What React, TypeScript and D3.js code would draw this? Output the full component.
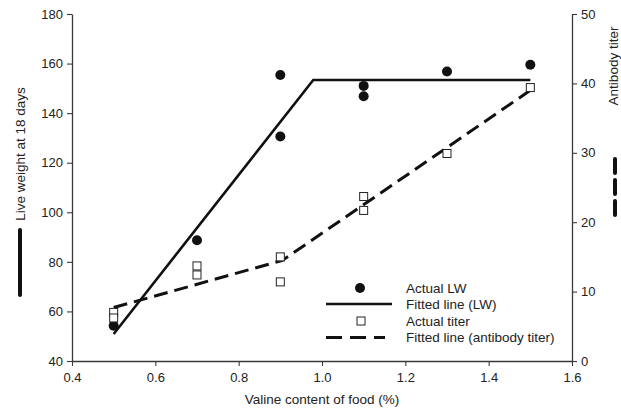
import React, { useRef, useEffect } from "react";
import * as d3 from "d3";

// Live weight (left axis) observations
const lwX = [0.5, 0.7, 0.9, 0.9, 1.1, 1.1, 1.3, 1.5];
const lwY = [54.2, 88.7, 155.4, 130.6, 151, 146.8, 156.8, 159.5];

// Antibody titer (right axis) observations
const titerX = [0.5, 0.5, 0.7, 0.7, 0.9, 0.9, 1.1, 1.1, 1.3, 1.5];
const titerY = [7.0, 6.2, 13.7, 12.4, 15.0, 11.4, 23.7, 21.7, 29.9, 39.4];

// Broken-line fits
const lwFitX = [0.5, 0.979, 1.5];
const lwFitY = [50.9, 153.4, 153.4];
const titerFitX = [0.5, 0.905, 1.5];
const titerFitY = [7.7, 14.5, 39.0];

const xTicks = [0.4, 0.6, 0.8, 1.0, 1.2, 1.4, 1.6];
const leftTicks = [40, 60, 80, 100, 120, 140, 160, 180];
const rightTicks = [0, 10, 20, 30, 40, 50];

const legendLabels = ["Actual LW", "Fitted line (LW)", "Actual titer", "Fitted line (antibody titer)"];

const W = 621;
const H = 410;
const FONT = "'Liberation Sans', Arial, Helvetica, sans-serif";
const AXIS = "#3a3a3a";

export default function App() {
  const ref = useRef<SVGSVGElement>(null);

  useEffect(() => {
    if (!ref.current) return;
    const svg = d3.select(ref.current);
    svg.selectAll("*").remove();

    const left = 72, right = 572, top = 14, bottom = 361;
    const x = d3.scaleLinear().domain([0.4, 1.6]).range([left, right]);
    const yL = d3.scaleLinear().domain([40, 180]).range([bottom, top]);
    const yR = d3.scaleLinear().domain([0, 50]).range([bottom, top]);

    const styleAxis = (g: any) => {
      g.select(".domain").attr("stroke", AXIS).attr("stroke-width", 1.3);
      g.selectAll(".tick line").attr("stroke", AXIS).attr("stroke-width", 1.1);
      g.selectAll(".tick text")
        .attr("fill", "#222")
        .attr("font-family", FONT)
        .attr("font-size", "13px");
    };

    // Axes
    svg
      .append("g")
      .attr("transform", `translate(0,${bottom})`)
      .call(
        d3.axisBottom(x).tickValues(xTicks).tickFormat(d3.format(".1f")).tickSize(5).tickSizeOuter(0).tickPadding(7)
      )
      .call(styleAxis);

    svg
      .append("g")
      .attr("transform", `translate(${left},0)`)
      .call(d3.axisLeft(yL).tickValues(leftTicks).tickSize(5).tickSizeOuter(0).tickPadding(4))
      .call(styleAxis);

    svg
      .append("g")
      .attr("transform", `translate(${right},0)`)
      .call(d3.axisRight(yR).tickValues(rightTicks).tickSize(5).tickSizeOuter(0).tickPadding(4))
      .call(styleAxis);

    // Axis titles
    svg
      .append("text")
      .attr("x", (left + right) / 2)
      .attr("y", 404)
      .attr("text-anchor", "middle")
      .attr("font-family", FONT)
      .attr("font-size", "13.5px")
      .attr("fill", "#222")
      .text("Valine content of food (%)");

    svg
      .append("text")
      .attr("transform", "translate(25,154) rotate(-90)")
      .attr("text-anchor", "middle")
      .attr("font-family", FONT)
      .attr("font-size", "13.5px")
      .attr("fill", "#222")
      .text("Live weight at 18 days");

    svg
      .append("line")
      .attr("x1", 20).attr("x2", 20)
      .attr("y1", 230).attr("y2", 295)
      .attr("stroke", "#111")
      .attr("stroke-width", 4)
      .attr("stroke-linecap", "round");

    svg
      .append("text")
      .attr("transform", "translate(618,66) rotate(-90)")
      .attr("text-anchor", "middle")
      .attr("font-family", FONT)
      .attr("font-size", "13.5px")
      .attr("fill", "#222")
      .text("Antibody titer");

    svg
      .append("line")
      .attr("x1", 615).attr("x2", 615)
      .attr("y1", 159).attr("y2", 219)
      .attr("stroke", "#111")
      .attr("stroke-width", 4)
      .attr("stroke-dasharray", "14 7")
      .attr("stroke-linecap", "round");

    // Fitted lines
    const lwLine = d3.line<number>().x((d) => x(d)).y((_d, i) => yL(lwFitY[i]));
    svg
      .append("path")
      .attr("d", lwLine(lwFitX))
      .attr("fill", "none")
      .attr("stroke", "#111")
      .attr("stroke-width", 2.6);

    const titerLine = d3.line<number>().x((d) => x(d)).y((_d, i) => yR(titerFitY[i]));
    svg
      .append("path")
      .attr("d", titerLine(titerFitX))
      .attr("fill", "none")
      .attr("stroke", "#111")
      .attr("stroke-width", 3)
      .attr("stroke-dasharray", "14 7");

    // Points
    svg
      .append("g")
      .selectAll("circle")
      .data(lwX)
      .join("circle")
      .attr("cx", (d) => x(d))
      .attr("cy", (_d, i) => yL(lwY[i]))
      .attr("r", 5)
      .attr("fill", "#111");

    const s = 8;
    svg
      .append("g")
      .selectAll("rect")
      .data(titerX)
      .join("rect")
      .attr("x", (d) => x(d) - s / 2)
      .attr("y", (_d, i) => yR(titerY[i]) - s / 2)
      .attr("width", s)
      .attr("height", s)
      .attr("fill", "#fff")
      .attr("stroke", "#222")
      .attr("stroke-width", 1);

    // Legend
    const lg = svg.append("g");
    const rowY = [288, 304, 321, 337.5];
    const symX = 360;
    lg.append("circle").attr("cx", symX).attr("cy", rowY[0]).attr("r", 5).attr("fill", "#111");
    lg.append("line")
      .attr("x1", 326).attr("x2", 392)
      .attr("y1", rowY[1]).attr("y2", rowY[1])
      .attr("stroke", "#111").attr("stroke-width", 2.6);
    lg.append("rect")
      .attr("x", symX - s / 2 + 1).attr("y", rowY[2] - s / 2)
      .attr("width", s).attr("height", s)
      .attr("fill", "#fff").attr("stroke", "#222").attr("stroke-width", 1);
    lg.append("line")
      .attr("x1", 326).attr("x2", 385)
      .attr("y1", rowY[3]).attr("y2", rowY[3])
      .attr("stroke", "#111").attr("stroke-width", 3).attr("stroke-dasharray", "16 8");

    lg.selectAll("text")
      .data(legendLabels)
      .join("text")
      .attr("x", 406)
      .attr("y", (_d, i) => rowY[i])
      .attr("dy", "0.35em")
      .attr("font-family", FONT)
      .attr("font-size", "13.5px")
      .attr("fill", "#222")
      .text((d) => d);
  }, []);

  return (
    <svg
      ref={ref}
      width={W}
      height={H}
      style={{ position: "absolute", left: 0, top: 0, background: "#fff" }}
    />
  );
}
